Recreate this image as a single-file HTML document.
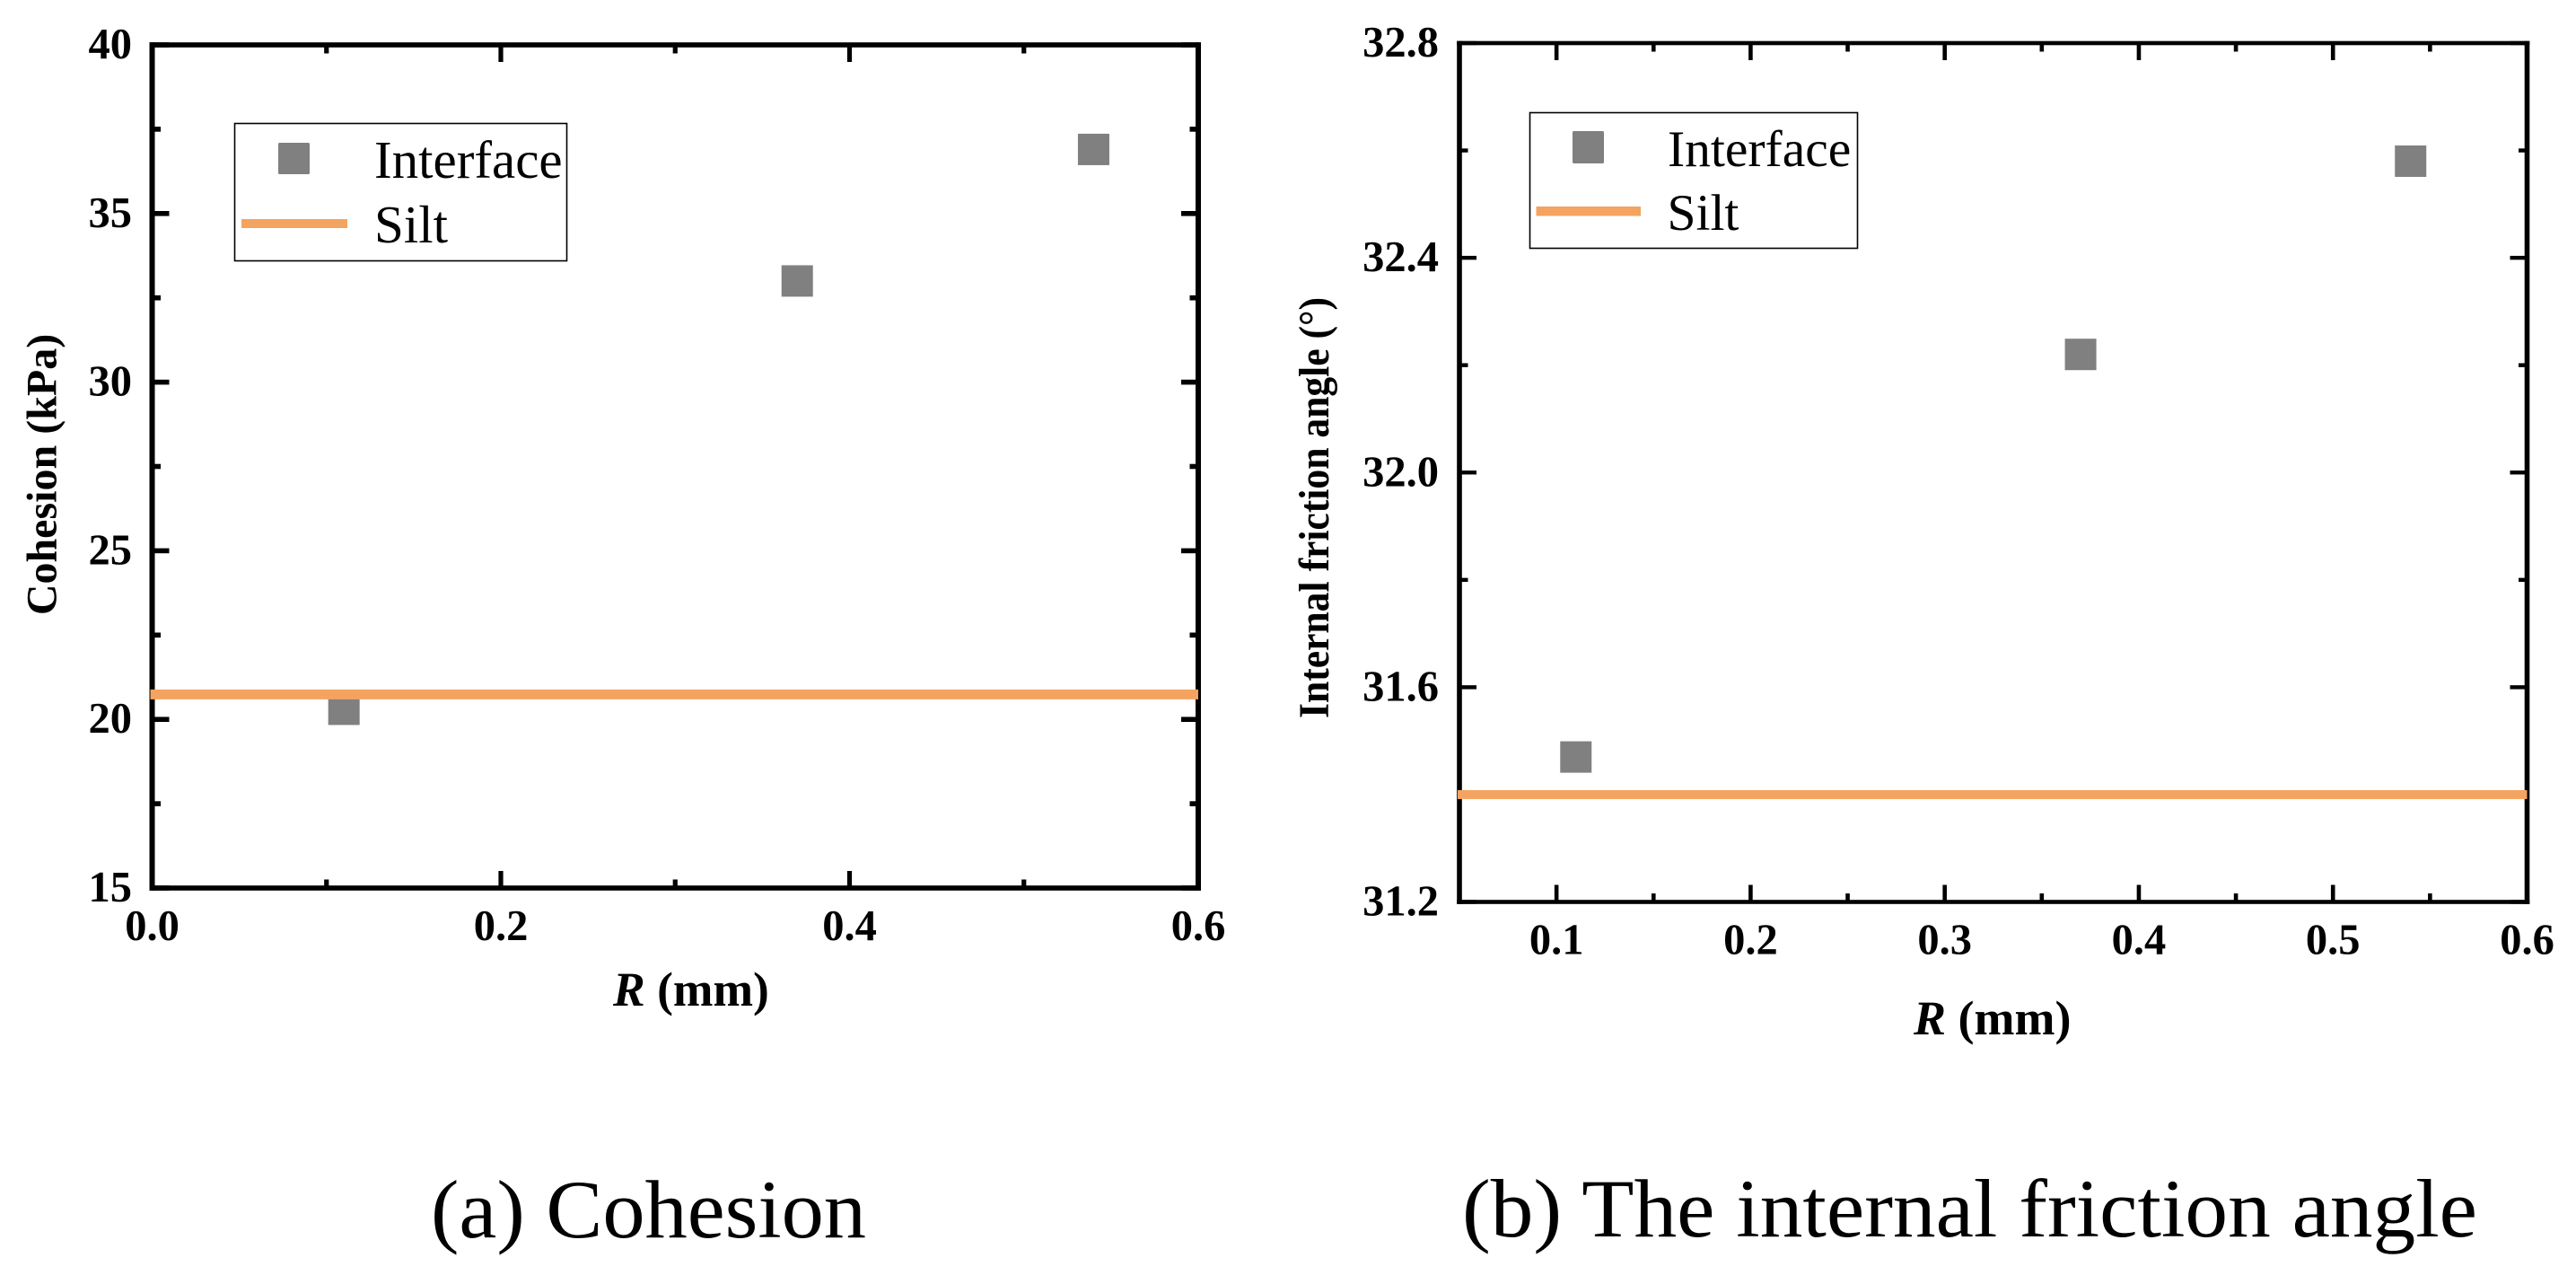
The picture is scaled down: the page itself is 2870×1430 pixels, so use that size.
<!DOCTYPE html>
<html lang="en">
<head>
<meta charset="utf-8">
<title>Cohesion and internal friction angle versus R</title>
<style>
  html, body { margin: 0; padding: 0; background: #ffffff; }
  body { width: 2870px; height: 1430px; overflow: hidden; }
  svg { display: block; }
  text { font-family: "Liberation Serif", serif; fill: #000000; }
  .tick-label { font-size: 48.5px; font-weight: bold; }
  .axis-title { font-weight: bold; }
  .legend-text { font-size: 59px; }
  .legend-text-b { font-size: 57.5px; }
  .caption { font-size: 92px; }
</style>
</head>
<body>
<svg id="figure" xmlns="http://www.w3.org/2000/svg" width="2870" height="1430" viewBox="0 0 2870 1430">
  <rect x="0" y="0" width="2870" height="1430" fill="#ffffff"/>

  <g id="panel-a"></g>
  <g id="panel-b"></g>

  <text class="axis-title" font-size="48" text-anchor="middle" transform="translate(62.5 528.5) rotate(-90)">Cohesion (kPa)</text>
  <text class="axis-title" font-size="53.5" x="683" y="1120"><tspan font-style="italic">R</tspan> (mm)</text>
  <text class="axis-title" font-size="48" text-anchor="start" textLength="469" lengthAdjust="spacingAndGlyphs" transform="translate(1480 800) rotate(-90)">Internal friction angle (°)</text>
  <text class="axis-title" font-size="54" x="2132" y="1152"><tspan font-style="italic">R</tspan> (mm)</text>

  <g>
    <rect x="261.5" y="137.5" width="370" height="153" fill="#ffffff" stroke="#000000" stroke-width="1.6"/>
    <rect x="310" y="159" width="35" height="35" rx="1.5" fill="#808080"/>
    <text class="legend-text" x="417" y="198">Interface</text>
    <rect x="269" y="244" width="118" height="10" fill="#F4A460"/>
    <text class="legend-text" x="417" y="270">Silt</text>
  </g>

  <g>
    <rect x="1704.5" y="125.5" width="365" height="151" fill="#ffffff" stroke="#000000" stroke-width="1.6"/>
    <rect x="1752" y="146" width="35" height="36" rx="1.5" fill="#808080"/>
    <text class="legend-text-b" x="1858" y="185">Interface</text>
    <rect x="1711.5" y="230" width="116.5" height="10.5" fill="#F4A460"/>
    <text class="legend-text-b" x="1857.5" y="256">Silt</text>
  </g>

  <text class="caption" x="480" y="1378" textLength="485" lengthAdjust="spacingAndGlyphs">(a) Cohesion</text>
  <text class="caption" x="1629" y="1377" textLength="1131" lengthAdjust="spacingAndGlyphs">(b) The internal friction angle</text>
</svg>

<script>
// ---- Chart data: panel (a) Cohesion ----
const cohesionRadius = [0.11, 0.37, 0.54];
const cohesionInterface = [20.3, 33.0, 36.9];
const cohesionSilt = [20.74];
const cohesionXTicks = [0.0, 0.2, 0.4, 0.6];
const cohesionXMinorTicks = [0.1, 0.3, 0.5];
const cohesionYTicks = [15, 20, 25, 30, 35, 40];
const cohesionYMinorTicks = [17.5, 22.5, 27.5, 32.5, 37.5];
const cohesionXLabels = ['0.0', '0.2', '0.4', '0.6'];
const cohesionYLabels = ['15', '20', '25', '30', '35', '40'];

// ---- Chart data: panel (b) Internal friction angle ----
const frictionRadius = [0.11, 0.37, 0.54];
const frictionInterface = [31.47, 32.22, 32.58];
const frictionSilt = [31.4];
const frictionXTicks = [0.1, 0.2, 0.3, 0.4, 0.5, 0.6];
const frictionXMinorTicks = [0.15, 0.25, 0.35, 0.45, 0.55];
const frictionYTicks = [31.2, 31.6, 32.0, 32.4, 32.8];
const frictionYMinorTicks = [31.4, 31.8, 32.2, 32.6];
const frictionXLabels = ['0.1', '0.2', '0.3', '0.4', '0.5', '0.6'];
const frictionYLabels = ['31.2', '31.6', '32.0', '32.4', '32.8'];

const SVG_NS = 'http://www.w3.org/2000/svg';

function linearScale(d0, d1, r0, r1) {
  return function (v) { return r0 + (v - d0) / (d1 - d0) * (r1 - r0); };
}

function shape(parent, tag, attrs) {
  const el = document.createElementNS(SVG_NS, tag);
  Object.keys(attrs).forEach(function (k) { el.setAttribute(k, attrs[k]); });
  parent.appendChild(el);
  return el;
}

function drawPanel(opts) {
  const g = document.getElementById(opts.id);
  const x = linearScale(opts.xDomain[0], opts.xDomain[1], opts.left, opts.right);
  const y = linearScale(opts.yDomain[0], opts.yDomain[1], opts.bottom, opts.top);
  const prefix = opts.prefix;

  // Frame
  const frameSides = [
    [opts.left - opts.vw / 2, opts.top - opts.hw / 2, opts.right - opts.left + opts.vw, opts.hw, 'top-spine'],
    [opts.left - opts.vw / 2, opts.bottom - opts.hw / 2, opts.right - opts.left + opts.vw, opts.hw, 'bottom-spine'],
    [opts.left - opts.vw / 2, opts.top - opts.hw / 2, opts.vw, opts.bottom - opts.top + opts.hw, 'left-spine'],
    [opts.right - opts.vw / 2, opts.top - opts.hw / 2, opts.vw, opts.bottom - opts.top + opts.hw, 'right-spine']
  ];
  frameSides.forEach(function (s) {
    const spine = shape(g, 'rect', { x: s[0], y: s[1], width: s[2], height: s[3], fill: '#000000' });
    
    
  });

  // X ticks on bottom and top edges
  function xTick(v, len, kind) {
    const px = x(v);
    const bottomTick = shape(g, 'rect', { x: px - opts.tw / 2, y: opts.bottom - len, width: opts.tw, height: len, fill: '#000000' });
    
    
    const topTick = shape(g, 'rect', { x: px - opts.tw / 2, y: opts.top, width: opts.tw, height: len, fill: '#000000' });
    
    
  }
  // Y ticks on left and right edges
  function yTick(v, len, kind) {
    const py = y(v);
    const leftTick = shape(g, 'rect', { x: opts.left, y: py - opts.th / 2, width: len, height: opts.th, fill: '#000000' });
    
    
    const rightTick = shape(g, 'rect', { x: opts.right - len, y: py - opts.th / 2, width: len, height: opts.th, fill: '#000000' });
    
    
  }
  opts.xTicks.forEach(function (v) { xTick(v, 19, 'major'); });
  opts.xMinor.forEach(function (v) { xTick(v, 9.5, 'minor'); });
  opts.yTicks.forEach(function (v) { yTick(v, 19, 'major'); });
  opts.yMinor.forEach(function (v) { yTick(v, 9.5, 'minor'); });

  // Tick labels
  opts.xTicks.forEach(function (v, i) {
    const label = shape(g, 'text', { x: x(v), y: opts.bottom + 58, 'text-anchor': 'middle', class: 'tick-label' });
    
    
    label.textContent = opts.xLabels[i];
  });
  opts.yTicks.forEach(function (v, i) {
    const label = shape(g, 'text', { x: opts.labelRight, y: y(v) + 15, 'text-anchor': 'end', class: 'tick-label' });
    
    
    label.textContent = opts.yLabels[i];
  });

  // Interface points
  const size = 35;
  opts.pointsX.forEach(function (v, i) {
    const point = shape(g, 'rect', {
      x: x(v) - size / 2, y: y(opts.pointsY[i]) - size / 2,
      width: size, height: size, fill: '#808080'
    });
    
    
  });

  // Silt reference line, drawn over the frame as in the source
  const siltY = y(opts.silt[0]);
  const silt = shape(g, 'rect', {
    x: opts.left - 2, y: siltY - opts.lineW / 2,
    width: opts.right - opts.left + 2, height: opts.lineW, fill: '#F4A460'
  });
  
  
}

drawPanel({
  id: 'panel-a', prefix: 'cohesion',
  left: 169.5, right: 1335, top: 50, bottom: 989,
  xDomain: [0, 0.6], yDomain: [15, 40],
  vw: 6, hw: 5.6, tw: 5.2, th: 5.6, lineW: 11, labelRight: 147,
  xTicks: cohesionXTicks, xMinor: cohesionXMinorTicks,
  yTicks: cohesionYTicks, yMinor: cohesionYMinorTicks,
  xLabels: cohesionXLabels, yLabels: cohesionYLabels,
  pointsX: cohesionRadius, pointsY: cohesionInterface, silt: cohesionSilt
});

drawPanel({
  id: 'panel-b', prefix: 'friction',
  left: 1626, right: 2815.5, top: 48, bottom: 1004.5,
  xDomain: [0.05, 0.6], yDomain: [31.2, 32.8],
  vw: 5.6, hw: 4.6, tw: 4.6, th: 4.4, lineW: 10, labelRight: 1603,
  xTicks: frictionXTicks, xMinor: frictionXMinorTicks,
  yTicks: frictionYTicks, yMinor: frictionYMinorTicks,
  xLabels: frictionXLabels, yLabels: frictionYLabels,
  pointsX: frictionRadius, pointsY: frictionInterface, silt: frictionSilt
});
</script>
</body>
</html>
